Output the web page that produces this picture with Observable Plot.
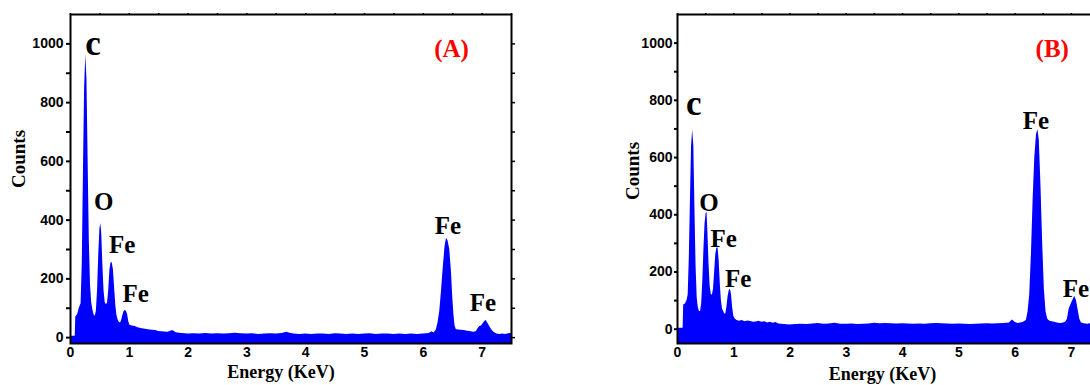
<!DOCTYPE html>
<html>
<head>
<meta charset="utf-8">
<script src="https://cdn.jsdelivr.net/npm/d3@7"></script>
<script src="https://cdn.jsdelivr.net/npm/@observablehq/plot@0.6"></script>
<style>
  html, body { margin: 0; padding: 0; background: #fff; overflow: hidden; width: 1090px; height: 385px; }
  #a { position: absolute; left: 0; top: 0; width: 530px; }
  #b { position: absolute; left: 600px; top: 0; width: 500px; }
  svg { max-width: none !important; }
</style>
</head>
<body>
<div id="a"></div>
<div id="b"></div>
<script>
// ---- Panel A spectrum (Energy keV, Counts) ----
const energyA = [0.00,0.08,0.09,0.12,0.15,0.18,0.20,0.22,0.24,0.26,0.28,0.30,0.32,0.34,0.36,0.38,0.40,0.42,0.44,0.46,0.48,0.50,0.515,0.53,0.55,0.57,0.59,0.61,0.63,0.65,0.67,0.69,0.71,0.73,0.75,0.77,0.79,0.81,0.83,0.85,0.87,0.89,0.91,0.93,0.95,0.97,0.99,1.01,1.05,1.10,1.15,1.20,1.25,1.30,1.35,1.40,1.45,1.50,1.55,1.60,1.65,1.70,1.73,1.76,1.80,1.85,1.90,1.95,2.00,2.10,2.20,2.30,2.40,2.50,2.60,2.70,2.80,2.90,3.00,3.10,3.20,3.30,3.40,3.50,3.60,3.68,3.75,3.80,3.90,4.00,4.10,4.20,4.30,4.40,4.50,4.60,4.70,4.80,4.90,5.00,5.10,5.20,5.30,5.40,5.50,5.60,5.70,5.80,5.90,6.00,6.10,6.15,6.18,6.22,6.25,6.28,6.31,6.34,6.37,6.395,6.42,6.45,6.48,6.50,6.52,6.54,6.56,6.60,6.65,6.70,6.75,6.80,6.85,6.90,6.93,6.96,6.99,7.02,7.05,7.07,7.10,7.13,7.16,7.20,7.25,7.30,7.35,7.40,7.45,7.50];
const countsA = [5,5,70,78,100,115,250,560,850,962,880,600,330,180,120,95,78,72,90,160,280,370,388,360,250,160,120,112,118,160,230,255,255,230,170,110,75,60,52,50,58,75,88,92,90,80,55,42,40,38,34,31,29,28,26,25,24,21,20,19,18,21,24,22,17,15,14,13,12,13,12,14,12,13,12,13,15,13,12,13,11,12,13,12,14,18,14,12,11,12,11,12,12,11,13,12,11,12,11,12,13,11,12,12,11,12,11,12,11,12,14,20,16,25,50,90,160,240,310,338,330,300,220,140,80,40,28,26,25,24,22,21,18,20,30,38,40,48,56,58,48,38,28,18,12,11,12,11,13,15];

// ---- Panel B spectrum ----
const energyB = [0.00,0.10,0.11,0.14,0.17,0.19,0.21,0.23,0.25,0.27,0.29,0.31,0.33,0.35,0.37,0.39,0.41,0.43,0.45,0.47,0.49,0.51,0.525,0.54,0.56,0.58,0.60,0.62,0.64,0.66,0.68,0.70,0.72,0.74,0.76,0.78,0.80,0.82,0.84,0.86,0.88,0.90,0.92,0.94,0.96,0.98,1.00,1.03,1.06,1.10,1.15,1.20,1.25,1.30,1.35,1.40,1.45,1.50,1.55,1.60,1.65,1.70,1.75,1.80,1.90,2.00,2.10,2.20,2.30,2.40,2.50,2.60,2.70,2.80,2.90,3.00,3.10,3.20,3.30,3.40,3.50,3.60,3.70,3.80,3.90,4.00,4.10,4.20,4.30,4.40,4.50,4.60,4.70,4.80,4.90,5.00,5.10,5.20,5.30,5.40,5.50,5.60,5.70,5.80,5.90,5.95,6.00,6.05,6.10,6.15,6.20,6.23,6.26,6.29,6.32,6.35,6.38,6.405,6.43,6.46,6.49,6.52,6.55,6.58,6.62,6.70,6.75,6.80,6.85,6.90,6.93,6.96,6.99,7.02,7.06,7.09,7.12,7.15,7.18,7.25,7.30,7.35,7.40,7.45,7.50];
const countsB = [3,3,85,88,100,120,250,450,640,695,640,420,220,110,75,62,62,90,170,280,370,405,408,340,230,150,122,119,140,200,260,283,285,240,160,100,70,62,52,55,80,115,135,140,120,75,45,35,30,28,30,26,29,27,24,25,28,24,26,22,24,21,23,18,16,15,16,17,16,18,20,17,18,21,17,17,18,16,17,18,21,19,20,19,18,19,18,17,18,17,19,20,19,18,17,18,17,16,17,18,19,18,19,20,22,32,24,20,22,24,30,60,120,260,450,600,680,698,660,500,300,140,60,35,28,24,22,20,21,25,35,70,85,98,115,100,68,35,22,18,17,20,18,19,18];

// ---- Axis ticks ----
const xTickLabels = [0,1,2,3,4,5,6,7];
const xTopTicks = [0,0.5,1,1.5,2,2.5,3,3.5,4,4.5,5,5.5,6,6.5,7,7.5];
const yTickLabels = [0,200,400,600,800,1000];
const yAllTicks = [0,100,200,300,400,500,600,700,800,900,1000];

// ---- Peak annotations ----
const peakNamesA = ["c","O","Fe","Fe","Fe","Fe"];
const peakXA = [0.383,0.566,0.879,1.11,6.42,7.015];
const peakYA = [961,434,287,121,352,91];
const peakNamesB = ["c","O","Fe","Fe","Fe","Fe"];
const peakXB = [0.29,0.56,0.82,1.08,6.37,7.08];
const peakYB = [748,413,288,148,701,113];
const peakSizes = [35,25,25,25,25,25];
const panelTags = ["(A)","(B)"];
const tagX = [6.48, 6.66];
const tagY = [954, 951];

const serif = "'Liberation Serif','Times New Roman',serif";

function panel(o) {
  const data = o.energy.map((e, i) => ({e, c: o.counts[i], b: o.yDomain[0]}));
  const ann = o.names.map((t, i) => ({t, x: o.px[i], y: o.py[i], s: peakSizes[i]}));
  return Plot.plot({
    width: o.width, height: 385,
    marginLeft: o.marginLeft, marginRight: o.marginRight, marginTop: 14, marginBottom: 42,
    x: {domain: [0, 7.5]},
    y: {domain: o.yDomain},
    style: {fontFamily: "'Liberation Sans', Arial, sans-serif", fontSize: "14px", fontWeight: "bold", color: "black", background: "transparent", overflow: "visible", maxWidth: "none"},
    marks: [
      Plot.areaY(data, {x: "e", y1: "b", y2: "c", fill: "#0000ff", clip: true}),
      Plot.axisY(yAllTicks, {anchor: "left", tickSize: o.yTickSize, tickPadding: o.yTickPad, strokeWidth: 2,
        tickFormat: d => yTickLabels.includes(d) ? String(d) : "", label: null}),
      Plot.axisY(yAllTicks, {anchor: "right", tickSize: 3, strokeWidth: 1.5, tickFormat: () => "", label: null}),
      Plot.axisX(xTickLabels, {anchor: "bottom", tickSize: 0, tickPadding: 4, label: null}),
      Plot.axisX(xTopTicks, {anchor: "top", tickSize: 2, strokeWidth: 1.5, tickFormat: () => "", label: null}),
      Plot.frame({stroke: "black", strokeWidth: 2}),
      Plot.text(ann, {x: "x", y: "y", text: "t", fontSize: "s", fontFamily: serif, fontWeight: "bold",
        fill: "black", textAnchor: "middle", lineAnchor: "bottom"}),
      Plot.text([o.tag], {x: () => o.tagX, y: () => o.tagY, fontSize: 25, fontFamily: serif, fontWeight: "bold",
        fill: "#ff0000", textAnchor: "middle", lineAnchor: "bottom"}),
      Plot.text(["Counts"], {frameAnchor: "left", rotate: -90, dx: o.countsDx, dy: o.countsDy, fontSize: 19,
        fontFamily: serif, fontWeight: "bold", fill: "black", textAnchor: "middle", lineAnchor: "middle"}),
      Plot.text(["Energy (KeV)"], {frameAnchor: "bottom", dx: o.energyDx, dy: o.energyDy, fontSize: 18,
        fontFamily: serif, fontWeight: "bold", fill: "black", textAnchor: "middle", lineAnchor: "bottom"})
    ]
  });
}

document.getElementById("a").append(panel({
  energy: energyA, counts: countsA, yDomain: [-20, 1100],
  names: peakNamesA, px: peakXA, py: peakYA,
  tag: panelTags[0], tagX: tagX[0], tagY: tagY[0],
  width: 530, marginLeft: 70, marginRight: 19,
  yTickSize: 4, yTickPad: 3,
  countsDx: -52, countsDy: -20, energyDx: -10, energyDy: 34
}));

document.getElementById("b").append(panel({
  energy: energyB, counts: countsB, yDomain: [-50, 1100],
  names: peakNamesB, px: peakXB, py: peakYB,
  tag: panelTags[1], tagX: tagX[1], tagY: tagY[1],
  width: 500, marginLeft: 77, marginRight: 1,
  yTickSize: 3, yTickPad: 2,
  countsDx: -45, countsDy: -8, energyDx: -6, energyDy: 36
}));
</script>
</body>
</html>
